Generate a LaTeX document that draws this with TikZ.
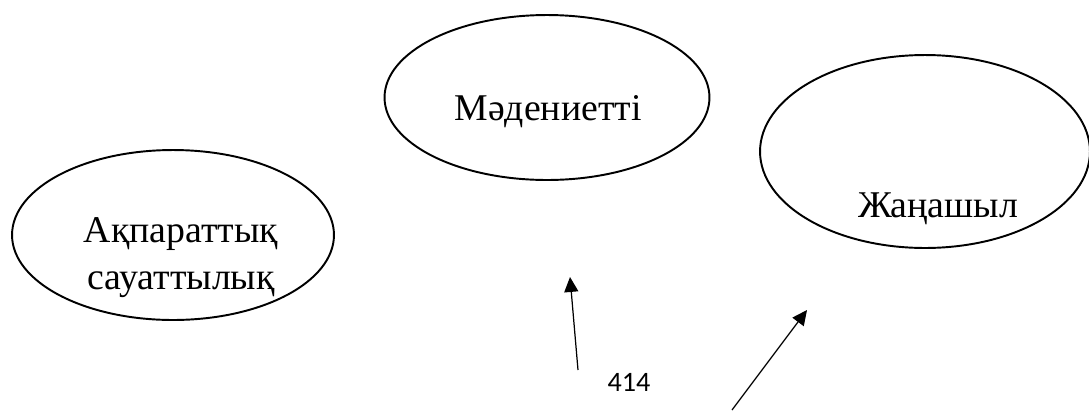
\documentclass[tikz,border=0pt]{standalone}
\usepackage{fontspec}
\setmainfont{Liberation Serif}
\newfontfamily\numfont{Carlito}
\usetikzlibrary{arrows.meta,shapes.geometric}
\definecolor{Ink}{HTML}{000000}

\begin{document}
\begin{tikzpicture}[x=0.02cm,y=-0.02cm,
    oval/.style={draw=Ink,line width=1.1pt,ellipse,inner sep=0pt},
    lbl/.style={font=\fontsize{21.5}{26.7}\selectfont,align=center},
    ptr/.style={Ink,line width=0.7pt,-{Triangle[length=8.5pt,width=8pt]}}]
    \useasboundingbox (0,0) rectangle (1089,410);
    % three ovals
    \node[oval,minimum width=6.44cm,minimum height=3.4cm] (info) at (173,235) {};
    \node[oval,minimum width=6.5cm,minimum height=3.3cm] (cult) at (547,97.5) {};
    \node[oval,minimum width=6.6cm,minimum height=3.86cm] (inno) at (925,151.5) {};
    \node[lbl] (infotxt) at (181,258) {Ақпараттық\\сауаттылық};
    \node[lbl,anchor=base] (culttxt) at (548,120) {Мәдениетті};
    \node[lbl,anchor=base] (innotxt) at (938,217) {Жаңашыл};
    % arrows and page number
    \coordinate (p1) at (578,370);
    \coordinate (q1) at (570,277);
    \coordinate (p2) at (732,410);
    \coordinate (q2) at (807,310);
    \draw[ptr] (p1) -- (q1);
    \draw[ptr] (p2) -- (q2);
    \node[anchor=base,font=\numfont\fontsize{16}{19}\selectfont] (page) at (629,391) {414};
  \end{tikzpicture}
\end{document}
